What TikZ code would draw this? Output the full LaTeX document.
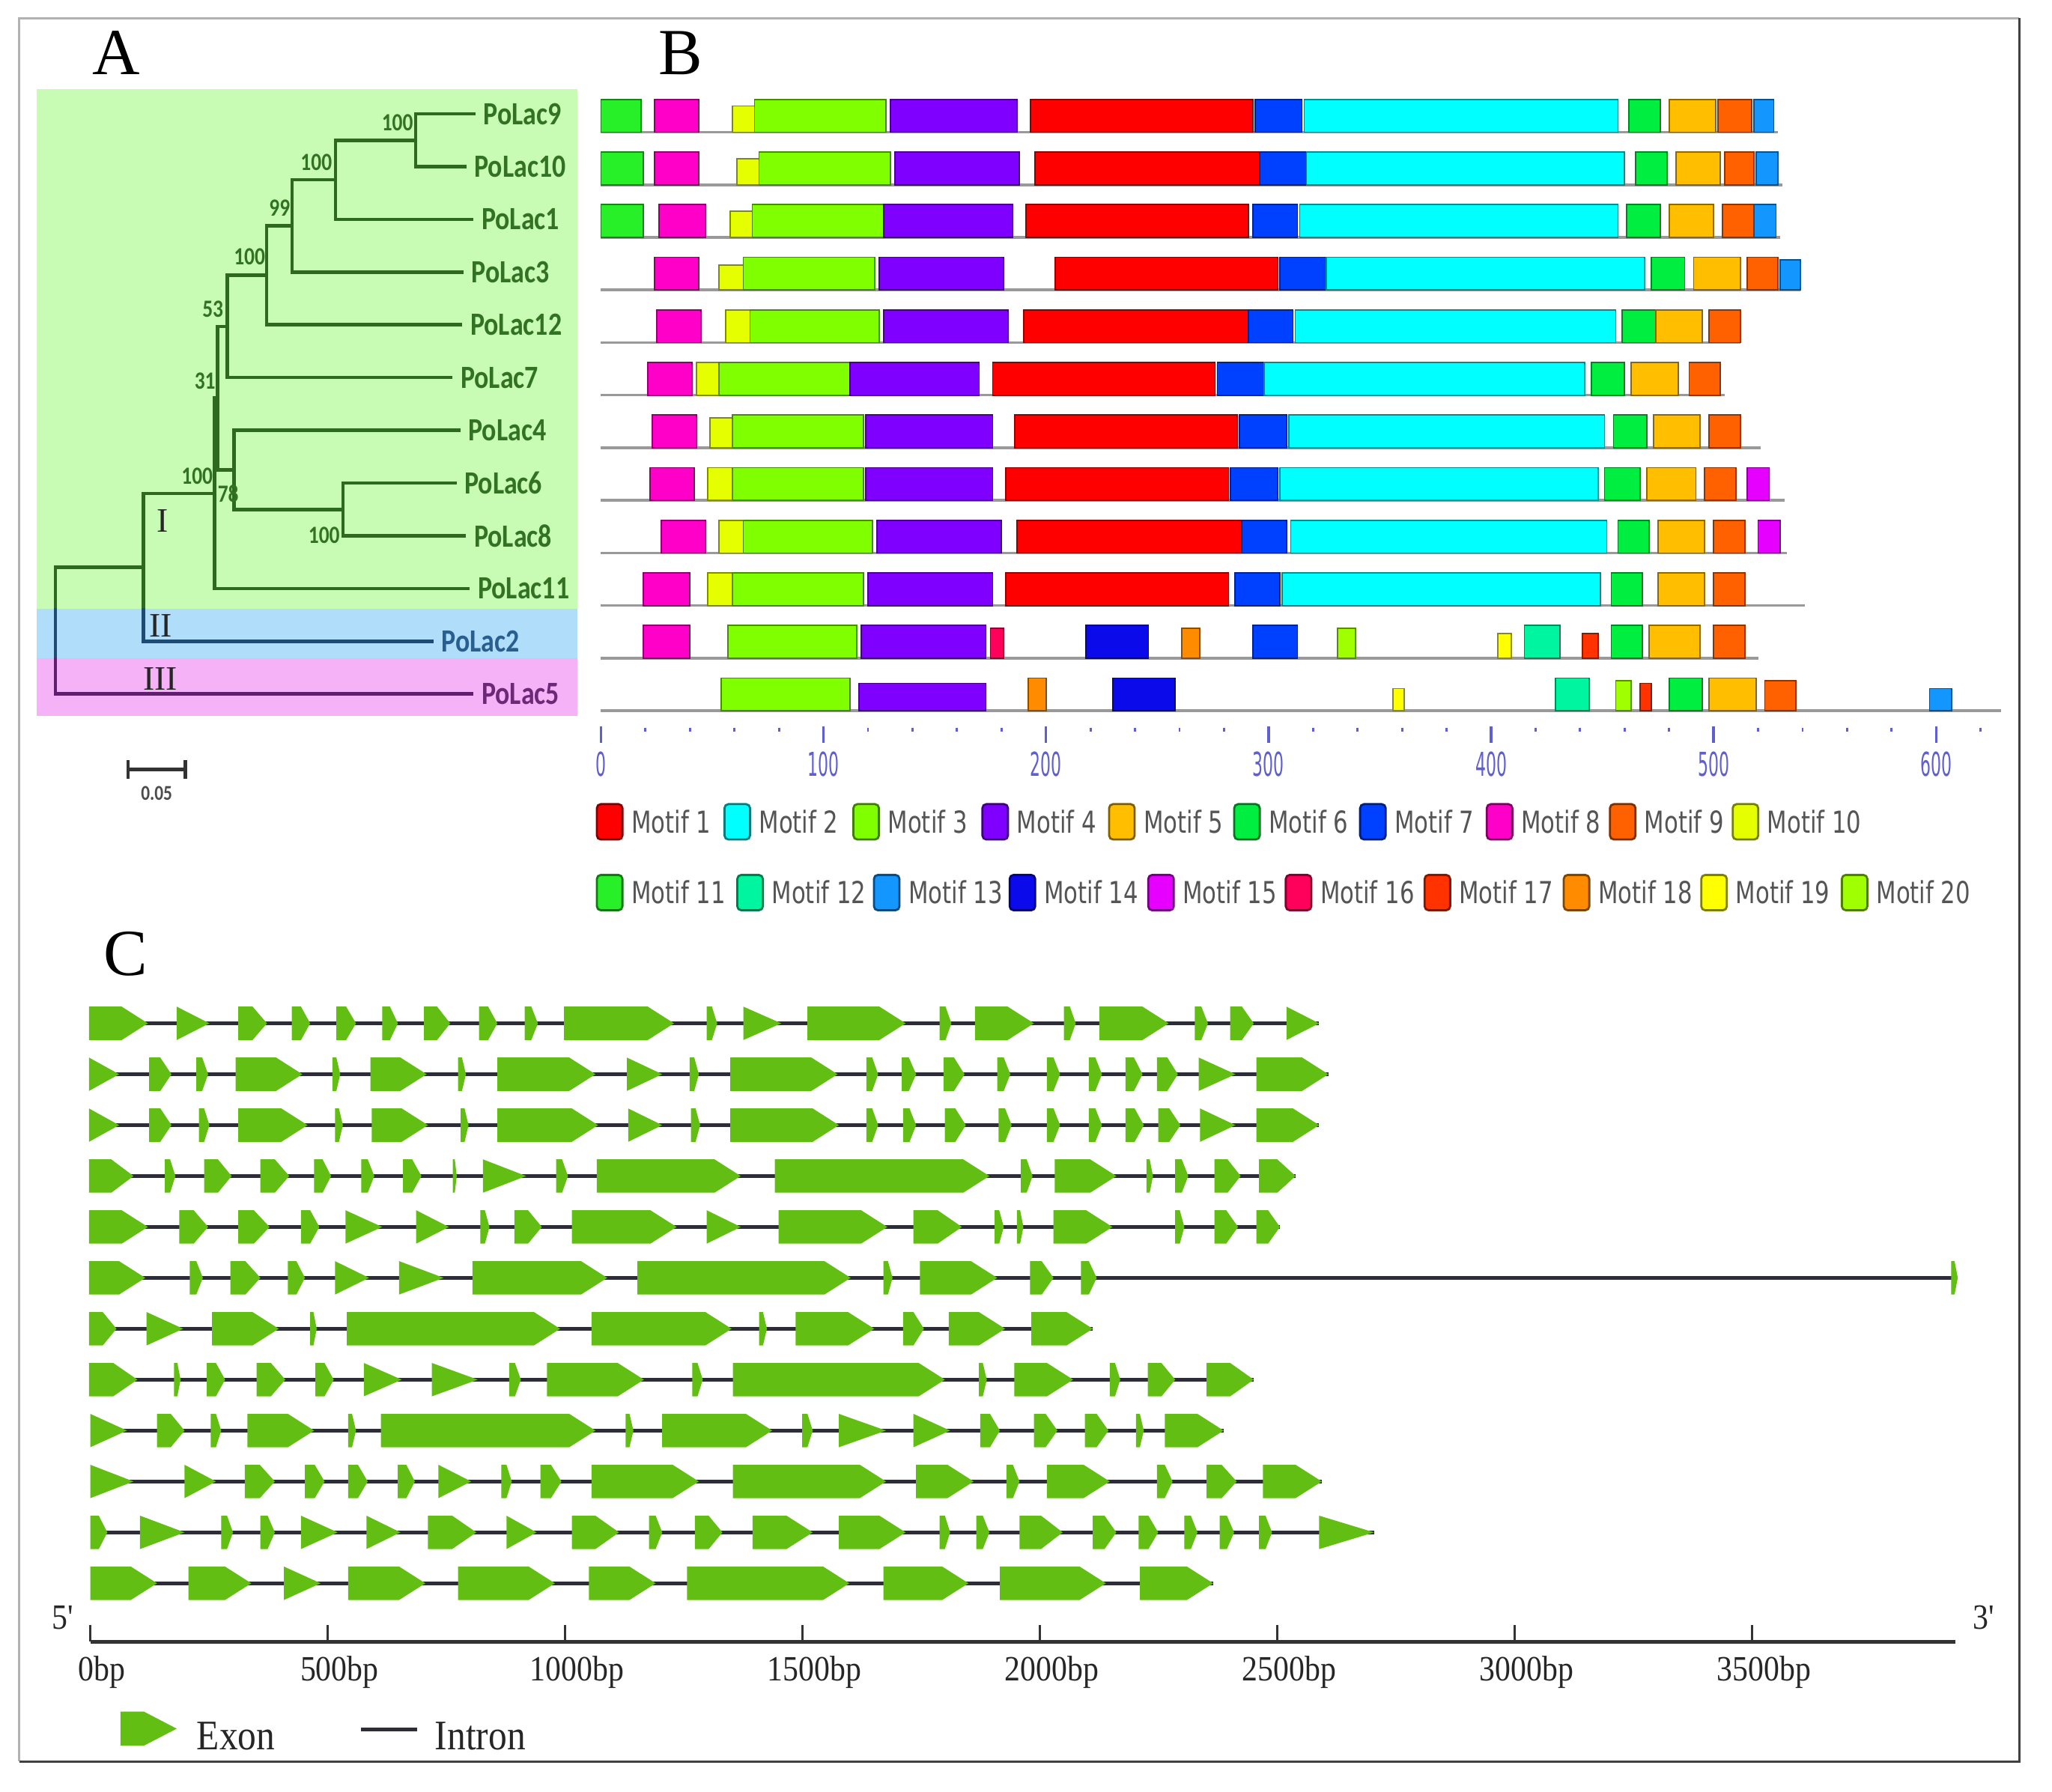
\documentclass[tikz,border=0pt]{standalone}
\usepackage{fontspec}
\setmainfont{Liberation Serif}
\newfontfamily\treefont[FakeStretch=0.83]{Carlito}
\newfontfamily\motiffont[FakeStretch=0.76]{DejaVu Sans}
\newfontfamily\axisfont[FakeStretch=0.5]{DejaVu Sans}
\newfontfamily\genefont[FakeStretch=0.88]{Liberation Serif}

\definecolor{bgI}{RGB}{200,251,180}
\definecolor{bgII}{RGB}{176,222,250}
\definecolor{bgIII}{RGB}{246,178,246}
\definecolor{treeI}{RGB}{45,105,30}
\definecolor{treeII}{RGB}{30,75,115}
\definecolor{treeIII}{RGB}{95,30,110}
\definecolor{labI}{RGB}{50,115,35}
\definecolor{labII}{RGB}{40,95,145}
\definecolor{labIII}{RGB}{110,40,120}
\definecolor{mot1}{RGB}{255,0,0}
\definecolor{mot2}{RGB}{0,255,255}
\definecolor{mot3}{RGB}{128,255,0}
\definecolor{mot4}{RGB}{128,0,255}
\definecolor{mot5}{RGB}{255,191,0}
\definecolor{mot6}{RGB}{0,238,64}
\definecolor{mot7}{RGB}{0,64,255}
\definecolor{mot8}{RGB}{255,0,200}
\definecolor{mot9}{RGB}{255,96,0}
\definecolor{mot10}{RGB}{230,255,0}
\definecolor{mot11}{RGB}{40,240,40}
\definecolor{mot12}{RGB}{0,245,160}
\definecolor{mot13}{RGB}{20,150,255}
\definecolor{mot14}{RGB}{10,10,235}
\definecolor{mot15}{RGB}{230,0,255}
\definecolor{mot16}{RGB}{255,0,90}
\definecolor{mot17}{RGB}{255,50,0}
\definecolor{mot18}{RGB}{255,140,0}
\definecolor{mot19}{RGB}{255,255,0}
\definecolor{mot20}{RGB}{160,255,0}
\definecolor{axisblue}{RGB}{95,95,210}
\definecolor{legendgray}{RGB}{85,85,85}
\definecolor{exongreen}{RGB}{98,190,18}
\definecolor{introngray}{RGB}{45,45,55}

\tikzset{
  panel/.style={font=\fontsize{25}{25}\selectfont, inner sep=0, anchor=base},
  branch/.style={line width=1.3pt, line cap=rect},
  leaf/.style={font=\treefont\bfseries\fontsize{12.3}{13}\selectfont, anchor=west, inner xsep=3.5pt, inner ysep=0},
  boot/.style={font=\treefont\bfseries\fontsize{9.4}{10}\selectfont, text=labI, inner sep=0},
  clade/.style={font=\fontsize{13}{13}\selectfont, text=black!85, inner sep=0},
  mline/.style={draw=black!40, line width=1pt},
  mbox/.style={line width=0.5pt},
  keybox/.style={rounded corners=1.5pt, line width=0.8pt},
  keytext/.style={font=\motiffont\fontsize{11.5}{12}\selectfont, text=legendgray, anchor=west, inner sep=0},
  axlab/.style={font=\axisfont\fontsize{12.5}{13}\selectfont, text=axisblue, inner sep=0},
  intron/.style={draw=introngray, line width=1.3pt},
  exonfill/.style={fill=exongreen},
  genelab/.style={font=\genefont\fontsize{13.5}{14}\selectfont, text=black!85, inner sep=0, anchor=base},
}

\begin{document}
\begin{tikzpicture}[x=0.017474cm, y=-0.017474cm]
\useasboundingbox (0,0) rectangle (1568,1369);
\fill[white] (0,0) rectangle (1568,1369);
\draw[black!30, line width=0.6pt] (14.6,1346) -- (14.6,14) -- (1543,14);
\draw[black!75, line width=0.8pt] (1543,14) -- (1543,1346) -- (14.6,1346);

% A
\node[panel] (labA) at (89,57) {A};
\fill[bgI] (28,68) rectangle (441,465);
\fill[bgII] (28,465) rectangle (441,503);
\fill[bgIII] (28,503) rectangle (441,547);

\coordinate (nA) at (317.6,107.2);
\coordinate (nB) at (256.3,137.4);
\coordinate (nC) at (223.3,172.6);
\coordinate (nD) at (203.8,210.4);
\coordinate (nE) at (173.7,249.5);
\coordinate (nF) at (262.2,389.3);
\coordinate (nG) at (178.7,359.0);
\coordinate (nH) at (166.4,304.2);
\coordinate (nJ) at (164.0,377.0);
\coordinate (nK) at (109.5,433.5);
\coordinate (nR) at (42.3,481.9);

\node[leaf, text=labI] (L9) at (362,87) {PoLac9};
\node[leaf, text=labI] (L10) at (355,127.3) {PoLac10};
\node[leaf, text=labI] (L1) at (360.6,167.6) {PoLac1};
\node[leaf, text=labI] (L3) at (353,207.9) {PoLac3};
\node[leaf, text=labI] (L12) at (352,248.2) {PoLac12};
\node[leaf, text=labI] (L7) at (344.5,288.5) {PoLac7};
\node[leaf, text=labI] (L4) at (350.4,328.8) {PoLac4};
\node[leaf, text=labI] (L6) at (347.5,369.1) {PoLac6};
\node[leaf, text=labI] (L8) at (354.8,409.4) {PoLac8};
\node[leaf, text=labI] (L11) at (357.7,449.7) {PoLac11};
\node[leaf, text=labII] (L2) at (330,490) {PoLac2};
\node[leaf, text=labIII] (L5) at (360.6,530.3) {PoLac5};

\foreach \clr/\ya/\yb in {treeI/68/465, treeII/465/503, treeIII/503/547} {
  \begin{scope}
    \clip (28,\ya) rectangle (441,\yb);
    \draw[branch, \clr] (nA) |- (L9.west) (nA) |- (L10.west)
      (nB) |- (nA) (nB) |- (L1.west) (nC) |- (nB) (nC) |- (L3.west)
      (nD) |- (nC) (nD) |- (L12.west) (nE) |- (nD) (nE) |- (L7.west)
      (nF) |- (L6.west) (nF) |- (L8.west) (nG) |- (L4.west) (nG) |- (nF)
      (nH) |- (nE) (nH) |- (nG) (nJ) |- (nH) (nJ) |- (L11.west)
      (nK) |- (nJ) (nK) |- (L2.west) (nR) |- (nK) (nR) |- (L5.west);
  \end{scope}
}

\node[boot, anchor=east] (bs1) at (316,94) {100};
\node[boot, anchor=east] (bs2) at (254,124) {100};
\node[boot, anchor=east] (bs3) at (222,159) {99};
\node[boot, anchor=east] (bs4) at (203,196) {100};
\node[boot, anchor=east] (bs5) at (171,236) {53};
\node[boot, anchor=east] (bs6) at (165,291) {31};
\node[boot, anchor=east] (bs7) at (163,364) {100};
\node[boot, anchor=west] (bs8) at (166,377.5) {78};
\node[boot, anchor=east] (bs9) at (260,409) {100};

\node[clade] (cI) at (124,398) {I};
\node[clade] (cII) at (122.6,478) {II};
\node[clade] (cIII) at (122.5,518.5) {III};

\coordinate (sbL) at (97.8,588);
\coordinate (sbR) at (141.6,588);
\draw[line width=1.2pt, black!80] (sbL) -- (sbR) (sbL) ++(0,-7) -- ++(0,14) (sbR) ++(0,-7) -- ++(0,14);
\node[boot, text=black!70, font=\treefont\bfseries\fontsize{8}{8}\selectfont] (sbt) at (119.7,606) {0.05};

% B
\node[panel] (labB) at (520,57) {B};
\begin{scope}[shift={(459.2,0)}, x=0.029706cm]
  \foreach \r/\e/\bl in {
    1/529/{11/0/18/25, 8/24/44/25, 10/59/69/20, 3/69/128/25, 4/130/187/25, 1/193/293/25, 7/294/315/25, 2/316/457/25, 6/462/476/25, 5/480/501/25, 9/502/517/25, 13/518/527/25},
    2/531/{11/0/19/25, 8/24/44/25, 10/61/71/20, 3/71/130/25, 4/132/188/25, 1/195/296/25, 7/296/317/25, 2/317/460/25, 6/465/479/25, 5/483/503/25, 9/505/518/25, 13/519/529/25},
    3/530/{11/0/19/25, 8/26/47/25, 10/58/68/20, 3/68/127/25, 4/127/185/25, 1/191/291/25, 7/293/313/25, 2/314/457/25, 6/461/476/25, 5/480/500/25, 9/504/518/25, 13/518/528/25},
    4/539/{8/24/44/25, 10/53/64/19, 3/64/123/25, 4/125/181/25, 1/204/304/25, 7/305/326/25, 2/326/469/25, 6/472/487/25, 5/491/512/25, 9/515/529/25, 13/530/539/23},
    5/512/{8/25/45/25, 10/56/67/25, 3/67/125/25, 4/127/183/25, 1/190/291/25, 7/291/311/25, 2/312/456/25, 6/459/474/25, 5/474/495/25, 9/498/512/25},
    6/505/{8/21/41/25, 10/43/53/25, 3/53/112/25, 4/112/170/25, 1/176/276/25, 7/277/298/25, 2/298/442/25, 6/445/460/25, 5/463/484/25, 9/489/503/25},
    7/521/{8/23/43/25, 10/49/59/23, 3/59/118/25, 4/119/176/25, 1/186/286/25, 7/287/308/25, 2/309/451/25, 6/455/470/25, 5/473/494/25, 9/498/512/25},
    8/532/{8/22/42/25, 10/48/59/25, 3/59/118/25, 4/119/176/25, 1/182/282/25, 7/283/304/25, 2/305/448/25, 6/451/467/25, 5/470/492/25, 9/496/510/25, 15/515/525/25},
    9/533/{8/27/47/25, 10/53/64/25, 3/64/122/25, 4/124/180/25, 1/187/288/25, 7/288/308/25, 2/310/452/25, 6/457/471/25, 5/475/496/25, 9/500/514/25, 15/520/530/25},
    10/541/{8/19/40/25, 10/48/59/25, 3/59/118/25, 4/120/176/25, 1/182/282/25, 7/285/305/25, 2/306/449/25, 6/454/468/25, 5/475/496/25, 9/500/514/25},
    11/520/{8/19/40/25, 3/57/115/25, 4/117/173/25, 16/175/181/23, 14/218/246/25, 18/261/269/23, 7/293/313/25, 20/331/339/23, 19/403/409/19, 12/415/431/25, 17/441/448/19, 6/454/468/25, 5/471/494/25, 9/500/514/25},
    12/629/{3/54/112/25, 4/116/173/21, 18/192/200/25, 14/230/258/25, 19/356/361/17, 12/429/444/25, 20/456/463/23, 17/467/472/21, 6/480/495/25, 5/498/519/25, 9/523/537/23, 13/597/607/17}} {
    \pgfmathsetmacro\yb{101+40.2*(\r-1)}
    \draw[mline] (0,\yb) -- (\e,\yb);
    \foreach \m/\xa/\xb/\h in \bl
      \draw[mbox, fill=mot\m, draw=mot\m!55!black] (\xa,\yb) rectangle (\xb,\yb-\h);
  }
  \foreach \tk in {0,20,...,620}
    \draw[axisblue, line width=0.8pt] (\tk,556) -- (\tk,559);
  \foreach \tk in {0,100,...,600} {
    \draw[axisblue, line width=1pt] (\tk,555) -- (\tk,567.5);
    \node[axlab] (ax\tk) at (\tk,583.7) {\tk};
  }
\end{scope}

\foreach \n/\x in {1/456.1, 2/553.6, 3/652.1, 4/750.7, 5/847.5, 6/943.1, 7/1039.3, 8/1136.1, 9/1230.2, 10/1324} {
  \draw[keybox, fill=mot\n, draw=mot\n!50!black] (\x,614.5) rectangle ++(19.5,27);
  \node[keytext] (key\n) at (\x+26,628) {Motif \n};
}
\foreach \n/\x in {11/456.1, 12/563.4, 13/667.8, 14/771.5, 15/877.4, 16/982.5, 17/1088.6, 18/1194.9, 19/1300, 20/1407.4} {
  \draw[keybox, fill=mot\n, draw=mot\n!50!black] (\x,668.6) rectangle ++(19.5,27);
  \node[keytext] (key\n) at (\x+26,682) {Motif \n};
}

% C
\node[panel] (labC) at (96,745.5) {C};
\foreach \r/\e/\ex in {
  1/1008/{68/113/0, 135/160/1, 182/204/0, 223/237/0, 257/272/0, 292/304/0, 324/344/0, 366/380/0, 401/411/0, 431/515/0, 540/548/0, 568/597/1, 617/692/0, 718/727/0, 745/790/0, 813/822/0, 840/893/0, 913/923/0, 940/958/0, 983/1008/1},
  2/1015/{68/91/1, 114/131/0, 150/159/0, 180/231/0, 254/260/0, 283/326/0, 350/356/0, 380/455/0, 479/506/1, 527/534/0, 558/640/0, 662/671/0, 689/700/0, 721/737/0, 762/772/0, 800/810/0, 832/842/0, 860/873/0, 884/900/0, 916/944/1, 960/1015/0},
  3/1008/{68/91/1, 114/131/0, 152/160/0, 182/235/0, 256/262/0, 284/327/0, 352/358/0, 380/457/0, 480/506/1, 528/535/0, 558/641/0, 662/671/0, 690/700/0, 722/738/0, 763/773/0, 800/810/0, 832/842/0, 860/874/0, 885/902/0, 917/944/1, 960/1008/0},
  4/990/{68/102/0, 126/134/0, 156/177/0, 199/221/0, 240/253/0, 276/286/0, 308/322/0, 346/349/0, 369/402/1, 425/434/0, 456/566/0, 592/756/0, 780/789/0, 806/853/0, 876/881/0, 898/908/0, 928/948/0, 962/990/0},
  5/978/{68/113/0, 137/159/0, 182/206/0, 230/244/0, 264/292/1, 318/343/1, 367/374/0, 393/414/0, 437/517/0, 540/566/1, 595/678/0, 698/735/0, 760/767/0, 777/782/0, 805/850/0, 898/905/0, 928/946/0, 960/978/0},
  6/1496/{68/111/0, 145/155/0, 176/199/0, 220/233/0, 256/282/1, 305/339/1, 361/464/0, 487/650/0, 675/682/0, 703/762/0, 787/805/0, 826/838/0, 1491/1496/0},
  7/835/{68/89/0, 112/140/1, 162/213/0, 237/242/0, 265/428/0, 452/559/0, 580/586/0, 608/668/0, 690/706/0, 725/768/0, 788/835/0},
  8/958/{68/105/0, 133/138/0, 158/172/0, 196/218/0, 241/255/0, 278/307/1, 330/365/1, 389/398/0, 418/492/0, 529/537/0, 560/722/0, 748/754/0, 775/820/0, 848/856/0, 877/898/0, 922/958/0},
  9/935/{69/97/1, 120/141/0, 161/169/0, 189/240/0, 266/272/0, 291/455/0, 478/484/0, 506/590/0, 613/621/0, 641/677/1, 698/726/1, 749/764/0, 790/808/0, 829/847/0, 868/874/0, 890/935/0},
  10/1010/{69/102/1, 141/165/1, 187/210/0, 233/248/0, 266/281/0, 304/317/0, 335/360/1, 383/391/0, 413/429/0, 452/534/0, 560/677/0, 700/744/0, 769/779/0, 800/848/0, 884/896/0, 922/945/0, 965/1010/0},
  11/1050/{69/82/0, 107/141/1, 169/178/0, 199/210/0, 230/258/1, 280/306/1, 327/364/0, 387/410/1, 437/473/0, 496/506/0, 531/552/0, 575/621/0, 641/692/0, 718/726/0, 746/756/0, 779/812/0, 835/853/0, 870/885/0, 905/915/0, 932/943/0, 962/972/0, 1008/1050/1},
  12/927/{69/120/0, 144/192/0, 217/245/1, 266/325/0, 350/424/0, 450/501/0, 525/649/0, 675/740/0, 764/845/0, 871/927/0}} {
  \pgfmathsetmacro\yc{782+38.9*(\r-1)}
  \draw[intron] (69,\yc) -- (\e,\yc);
  \foreach \xa/\xb/\tp in \ex {
    \pgfmathsetmacro\tip{ifthenelse(\tp==1,\xb-\xa,min(20,(\xb-\xa)/2))}
    \fill[exonfill] (\xa,\yc-12.75) -- (\xb-\tip,\yc-12.75) -- (\xb,\yc) -- (\xb-\tip,\yc+12.75) -- (\xa,\yc+12.75) -- cycle;
  }
}

\draw[line width=1.3pt, black!80] (69,1254.6) coordinate (axL) -- (1494,1254.6) coordinate (axR);
\foreach \k in {0,...,7} {
  \pgfmathsetmacro\xt{69+181.4*\k}
  \pgfmathtruncatemacro\bp{500*\k}
  \draw[line width=0.9pt, black!80] (\xt,1241.7) -- (\xt,1254.6);
  \node[genelab] (bp\k) at (\xt+9,1284.5) {\bp bp};
}
\node[genelab] (five) at (48,1245) {5'};
\node[genelab] (three) at (1516,1245) {3'};

\fill[exonfill] (92,1308) -- (110,1308) -- (135,1321) -- (110,1334) -- (92,1334) -- cycle;
\node[genelab, anchor=base west, font=\genefont\fontsize{16}{16}\selectfont] (exkey) at (150,1337) {Exon};
\draw[intron, line width=1.5pt] (276,1321.5) -- (319,1321.5);
\node[genelab, anchor=base west, font=\genefont\fontsize{16}{16}\selectfont] (inkey) at (332,1337) {Intron};
\end{tikzpicture}
\end{document}
